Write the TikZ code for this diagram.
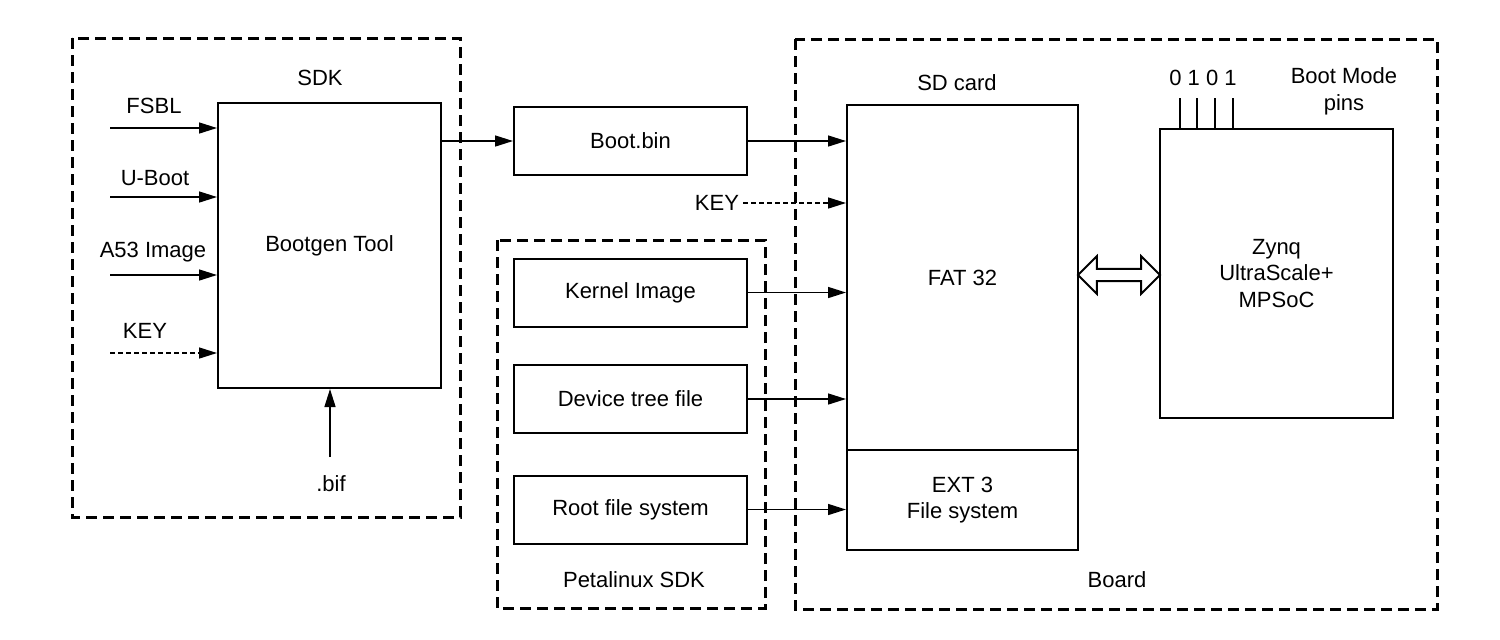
\documentclass[tikz,border=0pt]{standalone}
\usepackage{fontspec}
\setmainfont{Liberation Sans}
\usetikzlibrary{arrows.meta,shapes.arrows}

\begin{document}
\begin{tikzpicture}[x=0.5pt,y=0.5pt,yscale=-1,xscale=1,
	font=\fontsize{11}{13.4}\selectfont,
	blk/.style={draw,line width=1pt,inner sep=0pt,align=center},
	grp/.style={draw,line width=1.5pt,dash pattern=on 5.5pt off 3pt},
	lbl/.style={inner sep=0.75pt,align=center},
	link/.style={line width=0.75pt,-{Triangle[length=9pt,width=5.5pt]}},
	keylink/.style={link,dash pattern=on 2.5pt off 1.5pt}]
	\useasboundingbox (0,0) rectangle (1500,639);

	%Shape: Rectangle [SDK group]
	\draw [grp] (72,38) rectangle (460,517);
	%Shape: Rectangle [Petalinux group]
	\draw [grp] (497,240) rectangle (765,608);
	%Shape: Rectangle [Board group]
	\draw [grp] (795,39) rectangle (1437,609);

	%Shape: Rectangle [Bootgen]
	\node [blk,minimum width=111.5pt,minimum height=142.5pt] (bootgen) at (329.5,245.5) {Bootgen Tool};
	%Shape: Rectangle [Boot.bin]
	\node [blk,minimum width=116.5pt,minimum height=34pt] (bootbin) at (630.5,141) {Boot.bin};
	%Shape: Rectangle [Petalinux outputs]
	\node [blk,minimum width=116.5pt,minimum height=34pt] (kernel) at (630.5,292.5) {Kernel Image};
	\node [blk,minimum width=116.5pt,minimum height=34pt] (dtree) at (630.5,399) {Device tree file};
	\node [blk,minimum width=116.5pt,minimum height=34pt] (rootfs) at (630.5,509.5) {Root file system};
	%Shape: Rectangle [SD card]
	\node [blk,minimum width=115.5pt,minimum height=172.5pt] (fat) at (962.5,277.5) {FAT 32};
	\node [blk,minimum width=115.5pt,minimum height=50pt] (ext) at (962.5,500) {EXT 3\\File system};
	%Shape: Rectangle [Zynq]
	\node [blk,minimum width=116.5pt,minimum height=144.5pt] (zynq) at (1276.5,273.5) {Zynq\\UltraScale+\\MPSoC};

	% Text Node
	\node [lbl] (sdklbl) at (320,78) {SDK};
	% Text Node
	\node [lbl] (petalbl) at (634,580) {Petalinux SDK};
	% Text Node
	\node [lbl] (sdcardlbl) at (957,83) {SD card};
	% Text Node
	\node [lbl] (boardlbl) at (1117,580) {Board};
	% Text Node
	\node [lbl] (fsbllbl) at (154,106) {FSBL};
	% Text Node
	\node [lbl] (ubootlbl) at (155,178) {U-Boot};
	% Text Node
	\node [lbl] (a53lbl) at (153,252) {A53 Image};
	% Text Node
	\node [lbl] (keylbl) at (145,331) {KEY};
	% Text Node
	\node [lbl] (biflbl) at (331,484) {.bif};
	% Text Node
	\node [lbl,inner sep=2pt] (sdkeylbl) at (717,203) {KEY};
	% Text Node
	\node [lbl] (pinslbl) at (1203,78) {0 1 0 1};
	% Text Node
	\node [lbl] (modelbl) at (1344,91) {Boot Mode\\pins};

	%Straight Lines [inputs of Bootgen]
	\coordinate (fsbl) at (110,128);
	\coordinate (uboot) at (110,197);
	\coordinate (a53) at (110,275);
	\coordinate (key) at (110,353);
	\coordinate (bif) at (330,457);
	\draw [link] (fsbl) -- (fsbl -| bootgen.west);
	\draw [link] (uboot) -- (uboot -| bootgen.west);
	\draw [link] (a53) -- (a53 -| bootgen.west);
	\draw [keylink] (key) -- (key -| bootgen.west);
	\draw [link] (bif) -- (bif |- bootgen.south);

	%Straight Lines [to SD card]
	\draw [link] (bootgen.east |- bootbin.west) -- (bootbin.west);
	\draw [link] (bootbin.east) -- (bootbin.east -| fat.west);
	\draw [keylink] (sdkeylbl.east) -- (sdkeylbl.east -| fat.west);
	\draw [link] (kernel.east) -- (kernel.east -| fat.west);
	\draw [link] (dtree.east) -- (dtree.east -| fat.west);
	\draw [link] (rootfs.east) -- (rootfs.east -| ext.west);

	%Straight Lines [boot mode pins]
	\foreach \px in {1180,1197,1215,1233}
		\draw [line width=1pt] (\px,98) -- (\px,129 |- zynq.north);

	%Shape: Double Arrow [SD card - Zynq]
	\node [double arrow,draw,line width=1pt,fill=white,inner sep=2.6pt,
		minimum height=41pt,double arrow head extend=6.3pt] (bus) at (1119,275) {};

\end{tikzpicture}
\end{document}
